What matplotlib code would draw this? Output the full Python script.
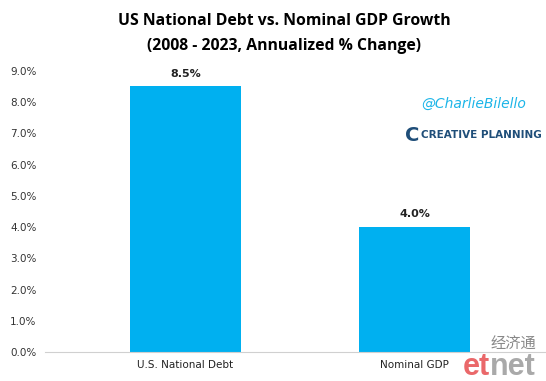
import matplotlib.pyplot as plt

categories = ['U.S. National Debt', 'Nominal GDP']
values = [8.5, 4.0]
yticks = [0, 1, 2, 3, 4, 5, 6, 7, 8, 9]

f = plt.figure(figsize=(5.46, 3.81), dpi=100)
ax = f.add_axes([0.082, 0.076, 0.916, 0.738])

x = range(len(categories))
bars = ax.bar(x, values, width=0.485, color='#00B0F0')
for b, v in zip(bars, values):
    ax.text(b.get_x() + b.get_width() / 2, v + 0.25, f"{v:.1f}%",
            ha='center', va='bottom', fontsize=8, fontweight='bold',
            family='DejaVu Sans', color='#222222')

ax.set_xlim(-0.615, 1.57)
ax.set_ylim(0, 9)
ax.set_yticks(yticks)
ax.set_yticklabels([f"{t:.1f}%" for t in yticks], fontsize=7.5, color='#333333')
ax.set_xticks(list(x))
ax.set_xticklabels(categories, fontsize=7.5, color='#222222')
ax.tick_params(length=0, pad=6)
for s in ['top', 'right', 'left']:
    ax.spines[s].set_visible(False)
ax.spines['bottom'].set_color('#d0d0d0')

f.text(0.52, 0.945, 'US National Debt vs. Nominal GDP Growth',
       ha='center', va='center', fontsize=11.3, fontweight='bold', family='Open Sans')
f.text(0.52, 0.88, '(2008 - 2023, Annualized % Change)',
       ha='center', va='center', fontsize=11.3, fontweight='bold', family='Open Sans')

# watermarks
f.text(0.868, 0.727, '@CharlieBilello', ha='center', va='center', fontsize=10,
       style='italic', color='#1CB5E8', family='DejaVu Sans')
f.text(0.755, 0.645, 'C', ha='center', va='center', fontsize=14,
       fontweight='bold', color='#1F4E79')
f.text(0.882, 0.645, 'CREATIVE PLANNING', ha='center', va='center', fontsize=7.5,
       fontweight='bold', color='#1F4E79', family='DejaVu Sans')
f.text(0.94, 0.097, '经济通', ha='center', va='center', fontsize=11,
       color='#888888', family='Noto Sans CJK SC')
f.text(0.848, 0.037, 'et', ha='left', va='center', fontsize=22,
       fontweight='bold', color='#E8585A', alpha=0.9, family='Liberation Sans')
f.text(0.897, 0.037, 'net', ha='left', va='center', fontsize=22,
       fontweight='bold', color='#A0A0A0', alpha=0.9, family='Liberation Sans')

f.savefig('out.png', dpi=100)
plt.close(f)
